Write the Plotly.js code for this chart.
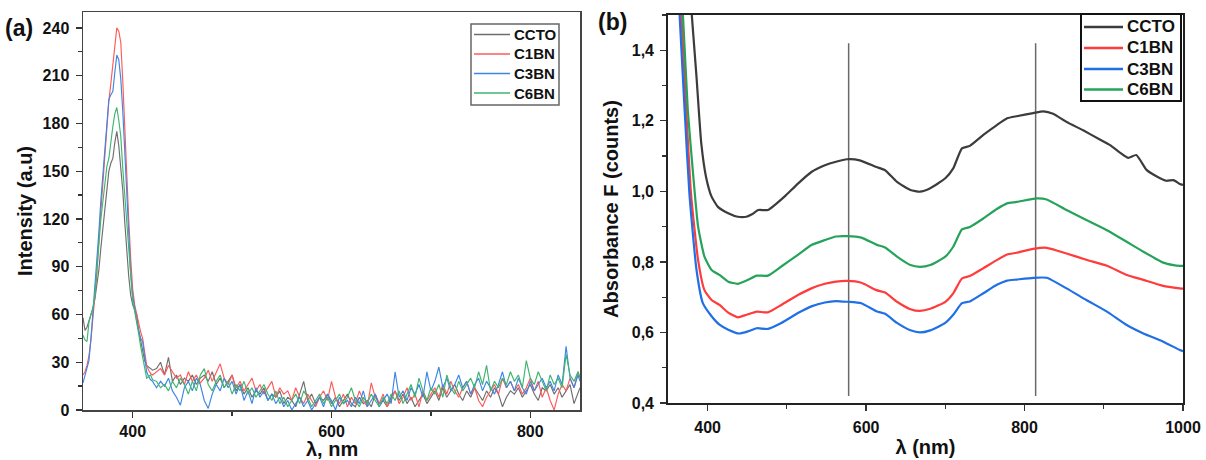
<!DOCTYPE html>
<html>
<head>
<meta charset="utf-8">
<script src="https://cdn.plot.ly/plotly-3.0.1.min.js"></script>
<style>html,body{margin:0;padding:0;background:#fff}#chart{width:1206px;height:460px}</style>
</head>
<body>
<div id="chart"></div>
<script>
// ---------- Panel (a): PL spectra ----------
const seriesNames = ['CCTO', 'C1BN', 'C3BN', 'C6BN'];

const wlA = [350,352,354,356,358,360,362,364,366,368,370,372,374,376,378,380,382,384,386,388,390,392,394,396,398,400,402,404,406,408,410,412,414,416,418,420,
424,428,432,436,440,444,448,452,456,460,
464,468,472,476,480,484,488,492,496,500,
504,508,512,516,520,524,528,532,536,540,
544,548,552,556,560,564,568,572,576,580,
584,588,592,596,600,604,608,612,616,620,
624,628,632,636,640,644,648,652,656,660,
664,668,672,676,680,684,688,692,696,700,
704,708,712,716,720,724,728,732,736,740,
744,748,752,756,760,764,768,772,776,780,
784,788,792,796,800,804,808,812,816,820,
824,828,832,836,840,844,848,850];

const intCCTO = [58,50,52,56,60,64,70,78,88,102,114,126,142,150,155,158,168,175,166,153,138,118,100,84,72,66,63,60,50,43,37,31,28,27,26,25,
26,30,22,33,18,22,16,20,18,22,
16,20,22,18,24,16,20,14,18,22,
12,16,10,14,8,12,10,14,6,10,
8,12,4,8,6,2,10,18,6,10,
4,8,6,10,4,8,2,6,10,4,
2,8,4,6,2,10,4,6,2,8,
12,6,10,4,8,2,6,10,4,8,
12,6,14,8,12,16,10,6,12,8,
14,10,6,12,8,14,10,2,8,12,
10,14,8,12,16,10,6,14,12,16,
10,14,8,12,16,4,10,14];

const intC1BN = [22,24,28,34,44,57,70,86,108,126,145,160,177,194,205,216,228,240,238,231,207,176,146,120,95,76,66,60,54,49,45,36,28,25,23,22,
24,26,22,28,24,20,22,16,24,18,
22,17,20,25,18,24,29,20,16,22,
14,18,12,16,20,12,16,10,14,18,
8,14,10,12,6,14,8,4,10,6,
2,8,12,6,18,8,4,10,2,8,
4,12,6,2,17,8,4,10,2,6,
12,4,8,14,6,10,2,12,6,10,
14,8,16,10,18,12,8,14,18,10,
14,6,2,8,12,16,10,20,14,18,
12,16,10,14,20,12,18,8,14,6,
0,10,16,12,20,14,24,20];

const intC3BN = [17,22,27,31,45,62,74,90,112,132,148,165,182,195,198,200,212,223,220,208,188,162,133,110,86,72,63,56,50,45,43,33,24,21,19,18,
14,18,15,20,12,8,3,14,18,12,
20,16,6,1,10,16,12,20,14,18,
10,16,6,12,4,14,8,12,6,10,
4,8,2,6,0,4,8,2,6,0,
4,8,2,10,6,0,8,4,6,2,
8,4,12,2,6,10,2,6,10,4,
24,8,12,6,14,10,16,8,24,12,
18,27,14,20,12,16,22,14,18,10,
16,20,12,18,14,10,16,24,14,18,
12,20,14,10,18,12,16,20,14,18,
12,22,16,40,20,14,22,18];

const intC6BN = [47,44,43,55,60,64,72,88,106,120,131,142,153,158,170,178,186,190,182,172,152,135,115,96,80,68,62,56,48,40,33,26,20,21,22,19,
18,14,16,12,18,14,20,16,10,18,
12,22,26,16,12,18,22,14,18,10,
16,12,18,10,14,8,12,16,10,6,
12,4,8,2,6,10,4,12,8,2,
6,10,4,8,2,6,10,4,8,14,
6,2,8,4,10,6,2,8,4,10,
6,12,4,10,16,8,20,12,6,14,
10,16,8,22,14,10,18,12,16,20,
14,24,16,28,12,18,14,20,16,24,
18,22,14,31,20,16,24,18,12,22,
16,20,14,35,22,18,24,20];

// ---------- Panel (b): absorbance ----------
const wlCCTO = [378,386,392,398,405,413,426,438,449,456,464,476,485,497,514,531,548,562,576,592,613,624,639,656,668,681,700,710,721,731,748,765,778,790,811,824,836,853,874,895,908,921,931,941,954,967,979,988,996,1000];
const absCCTO = [1.56,1.324,1.136,1.041,0.985,0.956,0.938,0.928,0.928,0.935,0.947,0.947,0.962,0.985,1.022,1.055,1.074,1.084,1.091,1.088,1.069,1.060,1.027,1.004,0.999,1.009,1.037,1.065,1.122,1.129,1.160,1.188,1.207,1.213,1.222,1.227,1.220,1.197,1.173,1.147,1.131,1.109,1.095,1.103,1.061,1.042,1.030,1.032,1.021,1.018];

const wlC1BN = [365,373,379,388,396,405,415,426,438,449,462,476,493,514,531,548,562,576,594,613,624,639,656,668,681,700,710,721,731,748,765,778,790,811,828,853,878,904,929,950,975,996,1000];
const absC1BN = [1.58,1.230,0.994,0.805,0.720,0.692,0.678,0.656,0.643,0.650,0.659,0.657,0.678,0.706,0.725,0.738,0.744,0.746,0.741,0.720,0.713,0.687,0.666,0.661,0.667,0.687,0.711,0.753,0.760,0.782,0.805,0.821,0.826,0.837,0.840,0.824,0.806,0.789,0.763,0.749,0.732,0.725,0.724];

const wlC3BN = [363,371,377,386,394,405,415,426,440,451,462,476,493,514,531,548,562,576,594,613,624,639,656,668,681,700,710,721,731,748,765,778,790,811,828,853,878,904,929,950,975,996,1000];
const absC3BN = [1.57,1.230,0.994,0.777,0.683,0.646,0.622,0.608,0.597,0.603,0.612,0.610,0.627,0.655,0.674,0.685,0.689,0.687,0.683,0.660,0.653,0.627,0.606,0.600,0.606,0.627,0.650,0.683,0.688,0.711,0.735,0.747,0.750,0.755,0.755,0.725,0.692,0.659,0.621,0.597,0.574,0.550,0.547];

const wlC6BN = [367,375,382,388,396,405,415,426,438,449,462,476,493,514,531,548,562,576,594,613,624,639,656,668,681,700,710,721,731,748,765,778,790,815,828,853,878,904,929,950,975,988,996,1000];
const absC6BN = [1.58,1.230,1.041,0.900,0.815,0.777,0.763,0.744,0.738,0.747,0.761,0.761,0.787,0.820,0.848,0.862,0.872,0.873,0.869,0.849,0.841,0.815,0.791,0.786,0.791,0.815,0.843,0.892,0.899,0.923,0.950,0.966,0.970,0.980,0.977,0.947,0.919,0.890,0.857,0.829,0.798,0.791,0.789,0.789];

const markerWavelengths = [578, 814];
const markerSpan = [0.42, 1.42];

// ---------- styling ----------
const colorsA = ['#6e6e6e', '#ff5a5a', '#3d86e6', '#3fb570'];
const colorsB = ['#3c3c3c', '#ff3b3b', '#1f6fe6', '#26a35a'];
const FONT = 'Liberation Sans, Arial, sans-serif';
const W = 1206, H = 460;

const dataA = [intCCTO, intC1BN, intC3BN, intC6BN];
const wlB = [wlCCTO, wlC1BN, wlC3BN, wlC6BN];
const dataB = [absCCTO, absC1BN, absC3BN, absC6BN];

const traces = [];
seriesNames.forEach((n, i) => {
  traces.push({
    x: wlA, y: dataA[i], name: n, type: 'scatter', mode: 'lines',
    line: {color: colorsA[i], width: 1.15},
    xaxis: 'x', yaxis: 'y', showlegend: false
  });
});
seriesNames.forEach((n, i) => {
  traces.push({
    x: wlB[i], y: dataB[i], name: n, type: 'scatter', mode: 'lines',
    line: {color: colorsB[i], width: 2.2, shape: 'spline', smoothing: 0.5},
    xaxis: 'x2', yaxis: 'y2', showlegend: false
  });
});

const shapes = markerWavelengths.map(w => ({
  type: 'line', xref: 'x2', yref: 'y2', x0: w, x1: w, y0: markerSpan[0], y1: markerSpan[1],
  line: {color: '#6a6a6a', width: 1.5}, layer: 'below'
}));

const titleFont = {family: FONT, size: 20, color: '#111', weight: 'bold'};
const tickFont = {family: FONT, size: 16, color: '#111', weight: 'bold'};

const domAx = [83/W, 580/W];

const annotations = [
  {text: '(a)', xref: 'paper', yref: 'paper', x: 3/W, y: 1 - 28/H, xanchor: 'left', yanchor: 'middle',
   showarrow: false, font: {family: FONT, size: 23, color: '#111', weight: 'bold'}},
  {text: '(b)', xref: 'paper', yref: 'paper', x: 596/W, y: 1 - 22/H, xanchor: 'left', yanchor: 'middle',
   showarrow: false, font: {family: FONT, size: 23, color: '#111', weight: 'bold'}},
  {text: 'λ, nm', xref: 'paper', yref: 'paper', x: (domAx[0] + domAx[1]) / 2, y: 1 - 449/H,
   xanchor: 'center', yanchor: 'middle', showarrow: false, font: titleFont}
];

// legend boxes (layout in pixels, converted to paper coordinates)
function legendBox(box, rows, lineX, textX, colors, lw, fsize, bcol, bw) {
  shapes.push({type: 'rect', xref: 'paper', yref: 'paper',
    x0: box[0]/W, x1: box[1]/W, y0: 1 - box[3]/H, y1: 1 - box[2]/H,
    line: {color: bcol, width: bw}, fillcolor: '#fff', layer: 'above'});
  seriesNames.forEach((n, i) => {
    const yp = 1 - rows[i]/H;
    shapes.push({type: 'line', xref: 'paper', yref: 'paper', x0: lineX[0]/W, x1: lineX[1]/W, y0: yp, y1: yp,
      line: {color: colors[i], width: lw}, layer: 'above'});
    annotations.push({text: n, xref: 'paper', yref: 'paper', x: textX/W, y: yp, xanchor: 'left', yanchor: 'middle',
      showarrow: false, font: {family: FONT, size: fsize, color: '#111', weight: 'bold'}});
  });
}
legendBox([471, 559, 24, 105], [34.5, 54, 73.5, 93], [474, 510], 512, colorsA, 1.4, 15, '#666', 1.5);
legendBox([1081, 1181, 14, 101], [27, 48, 69, 89.5], [1084, 1123], 1125, colorsB, 2.4, 17, '#111', 2);

function axisBase(extra) {
  return Object.assign({
    showgrid: false, zeroline: false, showline: true, mirror: true,
    ticks: 'outside', ticklen: 6, tickwidth: 1.3, tickcolor: '#333',
    ticklabelstandoff: 3,
    tickfont: tickFont, fixedrange: true
  }, extra);
}

const layout = {
  width: W, height: H,
  margin: {l: 0, r: 0, t: 0, b: 0},
  paper_bgcolor: '#fff', plot_bgcolor: '#fff',
  separators: ', ',
  showlegend: false,
  xaxis: axisBase({
    domain: domAx, range: [350, 850], anchor: 'y',
    tick0: 0, dtick: 200, linecolor: '#444', linewidth: 1.5, ticklabelstandoff: 0,
    minor: {dtick: 100, ticklen: 4, tickcolor: '#333', ticks: 'outside'}
  }),
  yaxis: axisBase({
    domain: [50/H, 448/H], range: [0, 250], anchor: 'x',
    tick0: 0, dtick: 30, linecolor: '#444', linewidth: 1.5,
    minor: {dtick: 15, ticklen: 4, tickcolor: '#333', ticks: 'outside'},
    title: {text: 'Intensity (a.u)', font: titleFont, standoff: 4}
  }),
  xaxis2: axisBase({
    domain: [668/W, 1183/W], range: [350, 1000], anchor: 'y2',
    tick0: 0, dtick: 200, linecolor: '#222', linewidth: 1.8,
    minor: {dtick: 100, ticklen: 4, tickcolor: '#333', ticks: 'outside'},
    title: {text: 'λ (nm)', font: titleFont, standoff: 5}
  }),
  yaxis2: axisBase({
    domain: [57/H, 445/H], range: [0.4, 1.5], anchor: 'x2',
    tick0: 0.4, dtick: 0.2, tickformat: '.1f', linecolor: '#222', linewidth: 1.8,
    minor: {dtick: 0.1, ticklen: 4, tickcolor: '#333', ticks: 'outside'},
    title: {text: 'Absorbance F (counts)', font: titleFont, standoff: 8}
  }),
  shapes: shapes,
  annotations: annotations
};

Plotly.newPlot('chart', traces, layout, {staticPlot: true, displayModeBar: false});
</script>
</body>
</html>
